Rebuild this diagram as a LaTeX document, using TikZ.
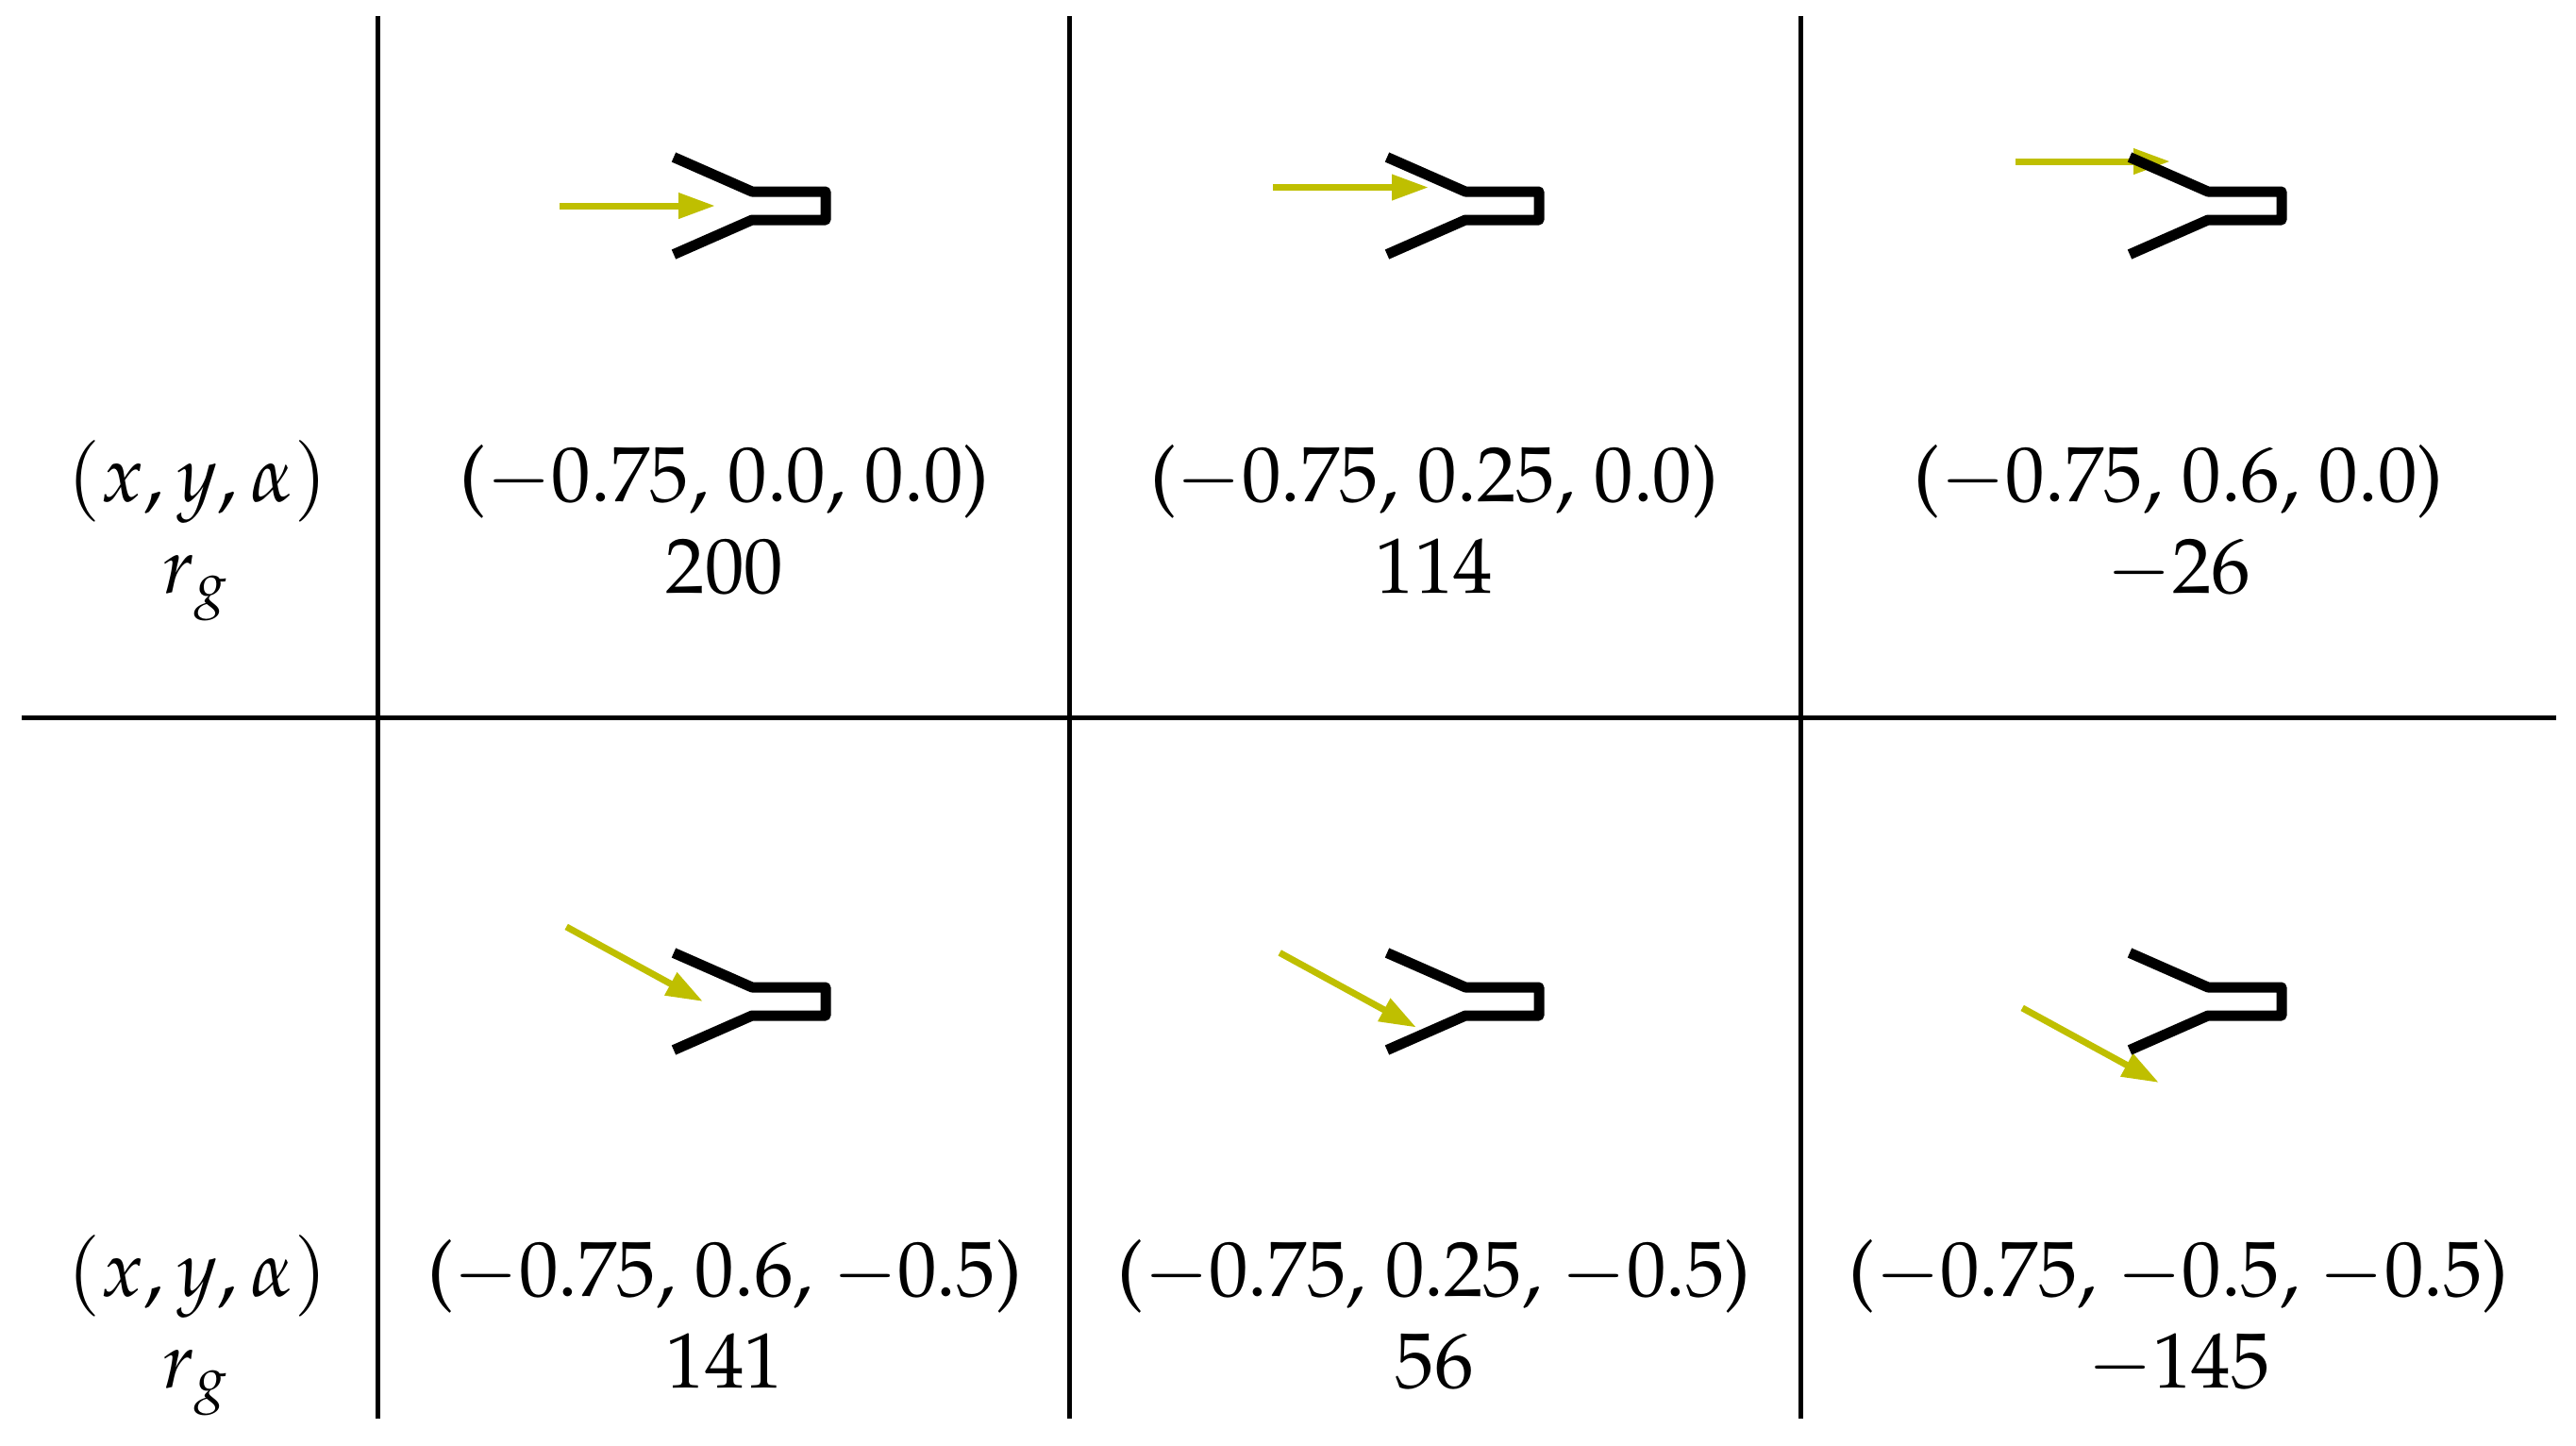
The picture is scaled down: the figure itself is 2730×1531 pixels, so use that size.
\documentclass[tikz,border=0pt]{standalone}
\usepackage[T1]{fontenc}
\usepackage{mathpazo}
\usetikzlibrary{arrows.meta}
\definecolor{arrowcol}{rgb}{0.75,0.75,0}
\tikzset{
  lbl/.style={anchor=base, inner sep=0pt, font=\fontsize{8.3}{10}\selectfont},
  gridline/.style={draw=black, line width=0.5pt},
  grip/.style={draw=black, line width=1.1pt, line join=round, line cap=butt},
  dirarrow/.style={draw=arrowcol, line width=0.7pt, -{Triangle[length=3.9pt,width=2.6pt,fill=arrowcol]}},
  gripper/.pic={\draw[grip] (0,-51.5) -- (83,-15) -- (161,-15) -- (161,15) -- (83,15) -- (0,51.5);}
}
\begin{document}
\begin{tikzpicture}[x=0.1pt,y=-0.1pt]
\useasboundingbox (0,0) rectangle (2730,1531);
% grid lines
\draw[gridline] (400,17) -- (400,1503);
\draw[gridline] (1133,17) -- (1133,1503);
\draw[gridline] (1908,17) -- (1908,1503);
\draw[gridline] (23,760) -- (2709,760);
% arrows (drawn before grippers)
\coordinate (a1s) at (593,218);   \coordinate (a1t) at (758,218);
\coordinate (a2s) at (1349,198.5); \coordinate (a2t) at (1514,198.5);
\coordinate (a3s) at (2136,171);  \coordinate (a3t) at (2300,171);
\coordinate (b1s) at (600.2,981.9); \coordinate (b1t) at (745,1061);
\coordinate (b2s) at (1356.2,1009.4); \coordinate (b2t) at (1501,1088.5);
\coordinate (b3s) at (2143.2,1067.9); \coordinate (b3t) at (2288,1147);
\draw[dirarrow] (a1s) -- (a1t);
\draw[dirarrow] (a2s) -- (a2t);
\draw[dirarrow] (a3s) -- (a3t);
\draw[dirarrow] (b1s) -- (b1t);
\draw[dirarrow] (b2s) -- (b2t);
\draw[dirarrow] (b3s) -- (b3t);
% grippers
\pic at (714,218) {gripper};
\pic at (1470,218) {gripper};
\pic at (2257,218) {gripper};
\pic at (714,1061) {gripper};
\pic at (1470,1061) {gripper};
\pic at (2257,1061) {gripper};
% labels
\node[lbl] (h1) at (209,531) {$(x,y,\alpha)$};
\node[lbl] (h2) at (209,628) {$r_g$};
\node[lbl] (h3) at (209,1373) {$(x,y,\alpha)$};
\node[lbl] (h4) at (209,1470) {$r_g$};
\node[lbl] (p1) at (768,531) {($-$0.75, 0.0, 0.0)};
\node[lbl] (r1) at (768,628) {200};
\node[lbl] (p2) at (1520,531) {($-$0.75, 0.25, 0.0)};
\node[lbl] (r2) at (1520,628) {114};
\node[lbl] (p3) at (2309,531) {($-$0.75, 0.6, 0.0)};
\node[lbl] (r3) at (2309,628) {$-$26};
\node[lbl] (p4) at (768,1373) {($-$0.75, 0.6, $-$0.5)};
\node[lbl] (r4) at (768,1470) {141};
\node[lbl] (p5) at (1520,1373) {($-$0.75, 0.25, $-$0.5)};
\node[lbl] (r5) at (1520,1470) {56};
\node[lbl] (p6) at (2309,1373) {($-$0.75, $-$0.5, $-$0.5)};
\node[lbl] (r6) at (2309,1470) {$-$145};
\end{tikzpicture}
\end{document}
